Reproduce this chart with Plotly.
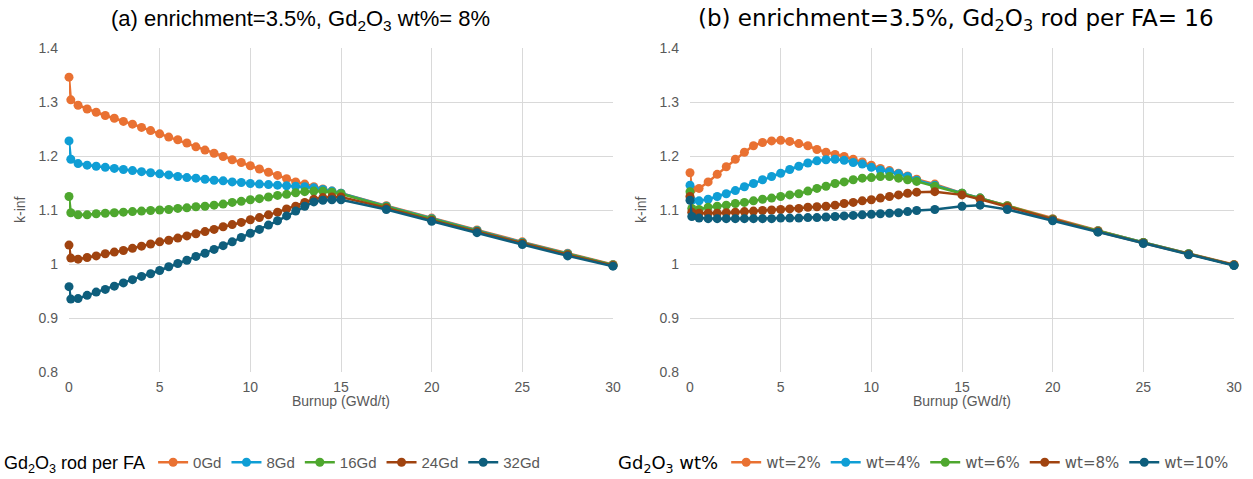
import plotly.graph_objects as go

# ---------------- data ----------------
x_left = [0, 0.1, 0.5, 1.0, 1.5, 2.0, 2.5, 3.0, 3.5, 4.0, 4.5, 5.0, 5.5, 6.0, 6.5, 7.0, 7.5,
          8.0, 8.5, 9.0, 9.5, 10.0, 10.5, 11.0, 11.5, 12.0, 12.5, 13.0, 13.5, 14.0, 14.5, 15.0,
          17.5, 20, 22.5, 25, 27.5, 30]

gd0 = [1.346, 1.304, 1.294, 1.287, 1.281, 1.275, 1.270, 1.264, 1.259, 1.253, 1.247, 1.241, 1.235,
       1.230, 1.224, 1.217, 1.211, 1.205, 1.199, 1.193, 1.188, 1.182, 1.176, 1.170, 1.164, 1.158,
       1.152, 1.148, 1.143, 1.139, 1.135, 1.131, 1.108, 1.085, 1.063, 1.041, 1.020, 0.999]
gd8 = [1.228, 1.194, 1.186, 1.183, 1.181, 1.179, 1.177, 1.175, 1.173, 1.171, 1.169, 1.167, 1.165,
       1.162, 1.160, 1.159, 1.157, 1.155, 1.154, 1.152, 1.151, 1.149, 1.148, 1.147, 1.146, 1.145,
       1.144, 1.143, 1.141, 1.138, 1.135, 1.131, 1.107, 1.084, 1.062, 1.040, 1.019, 0.998]
gd16 = [1.125, 1.095, 1.091, 1.091, 1.093, 1.094, 1.095, 1.096, 1.097, 1.098, 1.099, 1.100, 1.101,
        1.103, 1.104, 1.106, 1.107, 1.109, 1.111, 1.114, 1.116, 1.119, 1.121, 1.124, 1.127, 1.129,
        1.132, 1.134, 1.135, 1.135, 1.133, 1.130, 1.106, 1.083, 1.061, 1.039, 1.018, 0.998]
gd24 = [1.035, 1.011, 1.009, 1.012, 1.015, 1.019, 1.022, 1.025, 1.029, 1.033, 1.037, 1.041, 1.044,
        1.048, 1.052, 1.056, 1.060, 1.064, 1.069, 1.073, 1.077, 1.082, 1.086, 1.091, 1.096, 1.102,
        1.107, 1.114, 1.120, 1.123, 1.124, 1.124, 1.104, 1.081, 1.060, 1.038, 1.017, 0.997]
gd32 = [0.958, 0.935, 0.936, 0.942, 0.948, 0.953, 0.959, 0.965, 0.971, 0.977, 0.982, 0.988, 0.995,
        1.001, 1.007, 1.014, 1.020, 1.027, 1.034, 1.041, 1.049, 1.057, 1.064, 1.072, 1.080, 1.089,
        1.098, 1.107, 1.115, 1.118, 1.119, 1.119, 1.101, 1.079, 1.058, 1.036, 1.015, 0.996]

x_right = [0, 0.1, 0.5, 1.0, 1.5, 2.0, 2.5, 3.0, 3.5, 4.0, 4.5, 5.0, 5.5, 6.0, 6.5, 7.0, 7.5,
           8.0, 8.5, 9.0, 9.5, 10.0, 10.5, 11.0, 11.5, 12.0, 12.5, 13.5, 15, 16, 17.5,
           20, 22.5, 25, 27.5, 30]

wt2 = [1.169, 1.138, 1.140, 1.152, 1.166, 1.180, 1.194, 1.207, 1.219, 1.225, 1.228, 1.229, 1.227,
       1.223, 1.219, 1.212, 1.207, 1.203, 1.199, 1.194, 1.189, 1.183, 1.177, 1.173, 1.168, 1.163,
       1.157, 1.148, 1.131, 1.122, 1.108, 1.084, 1.062, 1.040, 1.019, 0.999]
wt4 = [1.146, 1.118, 1.117, 1.120, 1.125, 1.130, 1.136, 1.143, 1.149, 1.156, 1.162, 1.168, 1.175,
       1.181, 1.187, 1.191, 1.193, 1.194, 1.192, 1.188, 1.185, 1.179, 1.174, 1.171, 1.167, 1.162,
       1.155, 1.146, 1.131, 1.122, 1.107, 1.083, 1.061, 1.040, 1.019, 0.998]
wt6 = [1.134, 1.103, 1.101, 1.105, 1.107, 1.109, 1.112, 1.114, 1.117, 1.120, 1.122, 1.125, 1.128,
       1.130, 1.135, 1.140, 1.144, 1.149, 1.152, 1.156, 1.159, 1.160, 1.162, 1.162, 1.159, 1.156,
       1.153, 1.144, 1.131, 1.122, 1.108, 1.083, 1.061, 1.040, 1.019, 0.998]
wt8 = [1.125, 1.096, 1.094, 1.094, 1.094, 1.095, 1.096, 1.097, 1.098, 1.099, 1.100, 1.101, 1.102,
       1.103, 1.105, 1.106, 1.107, 1.109, 1.112, 1.114, 1.117, 1.119, 1.122, 1.125, 1.128, 1.131,
       1.133, 1.134, 1.128, 1.120, 1.106, 1.082, 1.060, 1.039, 1.018, 0.998]
wt10 = [1.118, 1.088, 1.085, 1.084, 1.084, 1.084, 1.084, 1.084, 1.084, 1.084, 1.084, 1.085, 1.085,
        1.085, 1.086, 1.086, 1.087, 1.088, 1.089, 1.090, 1.091, 1.092, 1.093, 1.094, 1.095, 1.097,
        1.099, 1.101, 1.107, 1.109, 1.101, 1.080, 1.059, 1.038, 1.017, 0.997]

left_names = ["0Gd", "8Gd", "16Gd", "24Gd", "32Gd"]
right_names = ["wt=2%", "wt=4%", "wt=6%", "wt=8%", "wt=10%"]
colors = ["#E97132", "#0F9ED5", "#4EA72E", "#A0430F", "#0E5E7C"]

y_tickvals = [0.8, 0.9, 1.0, 1.1, 1.2, 1.3, 1.4]
y_ticktext = ["0.8", "0.9", "1", "1.1", "1.2", "1.3", "1.4"]
x_tickvals = [0, 5, 10, 15, 20, 25, 30]

title_a = "(a) enrichment=3.5%, Gd<sub>2</sub>O<sub>3</sub> wt%= 8%"
title_b = "(b) enrichment=3.5%, Gd<sub>2</sub>O<sub>3</sub> rod per FA= 16"
legend_a = "Gd<sub>2</sub>O<sub>3</sub> rod per FA"
legend_b = "Gd<sub>2</sub>O<sub>3</sub> wt%"
x_title = "Burnup (GWd/t)"
y_title = "k-inf"

# ---------------- figure ----------------
W, H = 1253, 479
fig = go.Figure()

for ys, name, c in zip([gd0, gd8, gd16, gd24, gd32], left_names, colors):
    fig.add_trace(go.Scatter(x=x_left, y=ys, name=name, mode="lines+markers",
                             line=dict(color=c, width=2.5), marker=dict(color=c, size=9),
                             cliponaxis=False,
                             xaxis="x", yaxis="y", legend="legend"))
for ys, name, c in zip([wt2, wt4, wt6, wt8, wt10], right_names, colors):
    fig.add_trace(go.Scatter(x=x_right, y=ys, name=name, mode="lines+markers",
                             line=dict(color=c, width=2.5), marker=dict(color=c, size=9),
                             cliponaxis=False,
                             xaxis="x2", yaxis="y2", legend="legend2"))

tickfont = dict(family="Liberation Sans", size=14, color="#595959")
grid = "#D9D9D9"
ydom = [1 - 372 / H, 1 - 48 / H]

common_x = dict(range=[0, 30], tickvals=x_tickvals, showgrid=True, gridcolor=grid, gridwidth=1,
                zeroline=False, showline=False, ticks="", tickfont=tickfont, automargin=False,
                fixedrange=True, ticklabelstandoff=5)
common_y = dict(range=[0.8, 1.4], tickvals=y_tickvals, ticktext=y_ticktext, showgrid=True,
                gridcolor=grid, gridwidth=1, zeroline=False, showline=False, ticks="",
                tickfont=tickfont, automargin=False, ticklabelstandoff=10, fixedrange=True)

fig.update_layout(
    width=W, height=H,
    margin=dict(l=0, r=0, t=0, b=0, autoexpand=False),
    paper_bgcolor="white", plot_bgcolor="white",
    xaxis=dict(domain=[69 / W, 613 / W], anchor="y", **common_x),
    yaxis=dict(domain=ydom, anchor="x", **common_y),
    xaxis2=dict(domain=[690 / W, 1234 / W], anchor="y2", **common_x),
    yaxis2=dict(domain=ydom, anchor="x2", **common_y),
    legend=dict(orientation="h", x=2 / W, xanchor="left", y=1 - 463 / H, yanchor="middle",
                title=dict(text=legend_a, side="left",
                           font=dict(family="Liberation Sans", size=18, color="#000000")),
                font=dict(family="Liberation Sans", size=15, color="#595959"),
                bgcolor="rgba(0,0,0,0)", itemwidth=30, tracegroupgap=0),
    legend2=dict(orientation="h", x=616 / W, xanchor="left", y=1 - 463 / H, yanchor="middle",
                 title=dict(text=legend_b, side="left",
                            font=dict(family="DejaVu Sans", size=18, color="#000000")),
                 font=dict(family="DejaVu Sans", size=15, color="#595959"),
                 bgcolor="rgba(0,0,0,0)", itemwidth=30, tracegroupgap=0),
    showlegend=True,
)

font_a = dict(family="Liberation Sans", size=22, color="#000000")
font_b = dict(family="DejaVu Sans", size=23, color="#000000")
axis_font = dict(family="Liberation Sans", size=14, color="#595959")
fig.add_annotation(text=title_a, x=300 / W, y=1 - 20 / H, xref="paper", yref="paper",
                   showarrow=False, font=font_a, xanchor="center", yanchor="middle")
fig.add_annotation(text=title_b, x=956 / W, y=1 - 20 / H, xref="paper", yref="paper",
                   showarrow=False, font=font_b, xanchor="center", yanchor="middle")
for xc in [341, 962]:
    fig.add_annotation(text=x_title, x=xc / W, y=1 - 401 / H, xref="paper", yref="paper",
                       showarrow=False, font=axis_font, xanchor="center", yanchor="middle")
for xc in [20, 641]:
    fig.add_annotation(text=y_title, x=xc / W, y=1 - 210 / H, xref="paper", yref="paper",
                       showarrow=False, font=axis_font, textangle=-90,
                       xanchor="center", yanchor="middle")

fig.write_html("out.html", config={"displayModeBar": False})
